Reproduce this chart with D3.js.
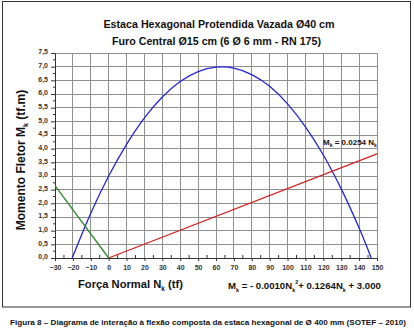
<!DOCTYPE html>
<html><head><meta charset="utf-8">
<script src="https://cdn.jsdelivr.net/npm/d3@7"></script>
<style>body{margin:0;background:#fff}svg{display:block}text{font-family:"Liberation Sans",Arial,sans-serif}</style>
</head><body><svg id="c" width="414" height="333"></svg>
<script>
const titleLines = ["Estaca Hexagonal Protendida Vazada Ø40 cm", "Furo Central Ø15 cm (6 Ø 6 mm - RN 175)"];
const caption = "Figura 8 – Diagrama de interação à flexão composta da estaca hexagonal de Ø 400 mm (SOTEF – 2010)";
const xTicks = [-30,-20,-10,0,10,20,30,40,50,60,70,80,90,100,110,120,130,140,150];
const yTicks = [0,0.5,1,1.5,2,2.5,3,3.5,4,4.5,5,5.5,6,6.5,7,7.5];
// interaction curve (blue)
const curveN = [-20.4,-10,0,10,20,30,40,50,60,70,80,90,100,110,120,130,140,146.8];
const curveM = [0,1.64,3.00,4.16,5.13,5.89,6.46,6.82,6.98,6.95,6.71,6.28,5.64,4.80,3.77,2.53,1.10,0];
// red line M = 0.0254 N
const redN = [0,150];
const redM = [0,3.81];
// green line
const greenN = [-30,0];
const greenM = [2.65,0];

const svg = d3.select("#c");
const x = d3.scaleLinear().domain([-30,150]).range([55,377]);
const y = d3.scaleLinear().domain([0,7.5]).range([258,53]);

// outer frame
svg.append("rect").attr("x",2.5).attr("y",1.5).attr("width",408).attr("height",305.5)
  .attr("fill","none").attr("stroke","#333").attr("stroke-width",1);

// titles
svg.selectAll("text.t").data(titleLines).join("text").attr("class","t")
  .attr("x",(d,i)=>i?216.5:219).attr("y",(d,i)=>28+i*17).attr("text-anchor","middle")
  .attr("font-weight","bold").attr("font-size",10.7).attr("fill","#111").text(d=>d);

// grid
const g = svg.append("g");
g.selectAll("line.vg").data(xTicks).join("line").attr("class","vg")
  .attr("x1",d=>x(d)).attr("x2",d=>x(d)).attr("y1",y(0)).attr("y2",y(7.5))
  .attr("stroke","#8f8f8f").attr("stroke-width",1).attr("shape-rendering","crispEdges");
g.selectAll("line.hg").data(yTicks).join("line").attr("class","hg")
  .attr("y1",d=>y(d)).attr("y2",d=>y(d)).attr("x1",x(-30)).attr("x2",x(150))
  .attr("stroke","#8f8f8f").attr("stroke-width",1).attr("shape-rendering","crispEdges");

// axes
const xAxis = d3.axisBottom(x).tickValues(xTicks).tickSize(3).tickFormat(d3.format("d"));
const ax = svg.append("g").attr("transform",`translate(0,${y(0)})`).call(xAxis);
ax.select(".domain").attr("stroke","#333");
ax.selectAll("line").attr("stroke","#333");
ax.selectAll("text").attr("font-size",7).attr("font-weight","bold").attr("fill","#333").attr("dy","0.9em");
const xMinor = d3.range(-25,150,10);
svg.append("g").selectAll("line").data(xMinor).join("line")
  .attr("x1",d=>x(d)).attr("x2",d=>x(d)).attr("y1",y(0)).attr("y2",y(0)-3).attr("stroke","#333");

const yAxis = d3.axisLeft(y).tickValues(yTicks).tickSize(4).tickFormat(d=>d3.format(".1f")(d).replace(".",","));
const ay = svg.append("g").attr("transform",`translate(${x(-30)},0)`).call(yAxis);
ay.select(".domain").attr("stroke","#333");
ay.selectAll("line").attr("stroke","#333");
ay.selectAll("text").attr("font-size",7).attr("font-weight","bold").attr("fill","#333").attr("dy","0.1em");
const yMinor = d3.range(0.25,7.5,0.5);
svg.append("g").selectAll("line").data(yMinor).join("line")
  .attr("y1",d=>y(d)).attr("y2",d=>y(d)).attr("x1",x(-30)).attr("x2",x(-30)-2).attr("stroke","#333");

// series
const line = d3.line().x(d=>x(d[0])).y(d=>y(d[1]));
svg.append("path").datum(curveN.map((n,i)=>[n,curveM[i]]))
  .attr("d",line.curve(d3.curveCardinal.tension(0))).attr("fill","none").attr("stroke","#2424d8").attr("stroke-width",1.3);
const line2 = d3.line().x(d=>x(d[0])).y(d=>y(d[1]));
svg.append("path").datum(redN.map((n,i)=>[n,redM[i]]))
  .attr("d",line2).attr("fill","none").attr("stroke","#d42020").attr("stroke-width",1.3);
svg.append("path").datum(greenN.map((n,i)=>[n,greenM[i]]))
  .attr("d",line2).attr("fill","none").attr("stroke","#2e8b2e").attr("stroke-width",1.3);

// red label
const rl = svg.append("text").attr("x",323).attr("y",145).attr("font-size",8).attr("font-weight","bold").attr("fill","#111");
rl.append("tspan").text("M");
rl.append("tspan").attr("font-size",5).attr("dy",2).text("k");
rl.append("tspan").attr("dy",-2).text(" = 0.0254 N");
rl.append("tspan").attr("font-size",5).attr("dy",2).text("k");

// axis titles
const xt = svg.append("text").attr("x",78).attr("y",288).attr("font-size",11.2).attr("font-weight","bold").attr("fill","#111");
xt.append("tspan").text("Força Normal N");
xt.append("tspan").attr("font-size",6.5).attr("dy",3).text("k");
xt.append("tspan").attr("dy",-3).text(" (tf)");

const yt = svg.append("text").attr("transform","translate(25,160) rotate(-90)").attr("text-anchor","middle")
  .attr("font-size",12).attr("font-weight","bold").attr("fill","#111");
yt.append("tspan").text("Momento Fletor M");
yt.append("tspan").attr("font-size",7).attr("dy",3).text("k");
yt.append("tspan").attr("dy",-3).text(" (tf.m)");

// equation
const eq = svg.append("text").attr("x",228).attr("y",289).attr("font-size",9.6).attr("font-weight","bold").attr("fill","#111");
eq.append("tspan").text("M");
eq.append("tspan").attr("font-size",5.5).attr("dy",3).text("k");
eq.append("tspan").attr("dy",-3).text(" = - 0.0010N");
eq.append("tspan").attr("font-size",5.5).attr("dy",3).text("k");
eq.append("tspan").attr("font-size",5.5).attr("dy",-8).text("2");
eq.append("tspan").attr("dy",5).text("+ 0.1264N");
eq.append("tspan").attr("font-size",5.5).attr("dy",3).text("k");
eq.append("tspan").attr("dy",-3).text(" + 3.000");

// caption
svg.append("text").attr("x",208).attr("y",325).attr("text-anchor","middle").attr("font-size",8.1)
  .attr("font-weight","bold").attr("fill","#111").text(caption);
</script></body></html>
